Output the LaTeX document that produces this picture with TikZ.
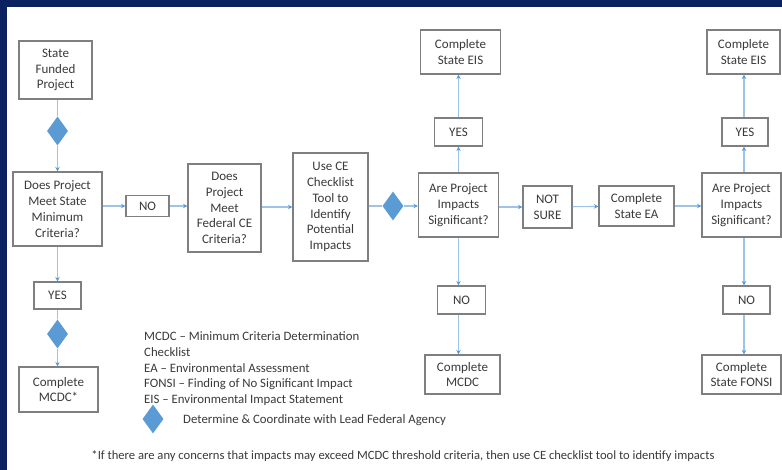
\documentclass[tikz,border=0pt]{standalone}
\usepackage{fontspec}
\setmainfont{Carlito}
\usetikzlibrary{shapes.geometric,arrows.meta}
\definecolor{navy}{HTML}{0B2260}
\definecolor{boxline}{HTML}{7F7F7F}
\definecolor{txt}{HTML}{3A3A3A}
\definecolor{flow}{HTML}{9DC3E6}
\definecolor{tip}{HTML}{5B9BD5}
\definecolor{gem}{HTML}{5B9BD5}
\tikzset{
  x=1pt, y=-1pt,
  stepbox/.style={draw=boxline, line width=1.1pt, fill=white, align=center,
    text=txt, font=\fontsize{13}{15.8}\selectfont, inner sep=1pt},
  gembox/.style={diamond, fill=gem, draw=none, inner sep=0pt,
    minimum width=21pt, minimum height=29pt},
  link/.style={draw=flow, line width=1.1pt},
  arr/.style={link, -{Stealth[length=4.5pt,width=4.5pt,color=tip]}},
  legend/.style={anchor=west, text=txt, inner sep=0pt,
    font=\fontsize{12.8}{14}\selectfont},
}
\begin{document}
\begin{tikzpicture}
\useasboundingbox (0,0) rectangle (782,470);
\fill[white] (0,0) rectangle (782,470);
% frame bands
\fill[navy] (0,0) rectangle (782,7);
\fill[navy] (0,0) rectangle (7,470);

% left column
\node[stepbox, minimum width=73pt, minimum height=58pt] (sfp) at (55.5,70) {State\\Funded\\Project};
\node[gembox] (d1) at (57.5,131) {};
\node[stepbox, minimum width=89pt, minimum height=74pt] (msc) at (57.5,209) {Does Project\\Meet State\\Minimum\\Criteria?};
\node[stepbox, minimum width=47pt, minimum height=27pt] (yes0) at (57.5,295.5) {YES};
\node[gembox] (d3) at (57.5,334) {};
\node[stepbox, minimum width=79pt, minimum height=45pt] (mcdcs) at (58.5,389.5) {Complete\\MCDC*};

% main row
\node[stepbox, minimum width=43pt, minimum height=21pt] (no1) at (147.5,206) {NO};
\node[stepbox, minimum width=73pt, minimum height=88pt] (fce) at (224.5,208) {Does\\Project\\Meet\\Federal CE\\Criteria?};
\node[stepbox, minimum width=75pt, minimum height=108pt] (chk) at (330.5,207) {Use CE\\Checklist\\Tool to\\Identify\\Potential\\Impacts};
\node[gembox] (d2) at (393,206) {};
\node[stepbox, minimum width=80pt, minimum height=64pt] (sig1) at (458.5,205) {Are Project\\Impacts\\Significant?};
\node[stepbox, minimum width=49pt, minimum height=42pt] (ns) at (547.5,207) {NOT\\SURE};
\node[stepbox, minimum width=75pt, minimum height=40pt] (ea) at (636.5,206) {Complete\\State EA};
\node[stepbox, minimum width=79pt, minimum height=64pt] (sig2) at (741.5,205) {Are Project\\Impacts\\Significant?};

% first decision column
\node[stepbox, minimum width=48pt, minimum height=28pt] (yes1) at (458.5,132) {YES};
\node[stepbox, minimum width=80pt, minimum height=44pt] (eis1) at (460.5,52) {Complete\\State EIS};
\node[stepbox, minimum width=48pt, minimum height=28pt] (no2) at (461.5,300) {NO};
\node[stepbox, minimum width=75pt, minimum height=39pt] (mcdc) at (462.5,374.5) {Complete\\MCDC};

% second decision column
\node[stepbox, minimum width=46pt, minimum height=28pt] (yes2) at (745,132) {YES};
\node[stepbox, minimum width=73pt, minimum height=44pt] (eis2) at (743.5,52) {Complete\\State EIS};
\node[stepbox, minimum width=47pt, minimum height=28pt] (no3) at (746.5,300) {NO};
\node[stepbox, minimum width=79pt, minimum height=39pt] (fonsi) at (741.5,374.5) {Complete\\State FONSI};

% connectors
\draw[link] (sfp.south -| d1) -- (d1);
\draw[arr] (d1) -- (msc.north -| d1);
\draw[arr] (msc.south -| yes0) -- (yes0);
\draw[link] (yes0) -- (d3);
\draw[arr] (d3) -- (mcdcs.north -| d3);
\draw[arr] (msc.east |- no1) -- (no1);
\draw[arr] (no1) -- (fce.west |- no1);
\draw[arr] (fce.east |- chk) -- (chk);
\draw[link] (chk.east |- d2) -- (d2);
\draw[arr] (d2) -- (sig1.west |- d2);
\draw[arr] (sig1.north -| yes1) -- (yes1);
\draw[arr] (yes1) -- (eis1.south -| yes1);
\draw[arr] (sig1.south -| yes1) -- (no2.north -| yes1);
\draw[arr] (no2.south -| yes1) -- (mcdc.north -| yes1);
\draw[arr] (sig1.east |- ns) -- (ns);
\draw[arr] (ns) -- (ea);
\draw[arr] (ea.east) -- (sig2.west |- ea);
\coordinate (rc) at (744,0);
\draw[arr] (sig2.north -| rc) -- (yes2.south -| rc);
\draw[arr] (yes2.north -| rc) -- (eis2.south -| rc);
\draw[arr] (sig2.south -| rc) -- (no3.north -| rc);
\draw[arr] (no3.south -| rc) -- (fonsi.north -| rc);

% legend
\node[legend] (l1) at (144,336) {MCDC – Minimum Criteria Determination};
\node[legend] (l2) at (144,352) {Checklist};
\node[legend] (l3) at (144,368) {EA – Environmental Assessment};
\node[legend] (l4) at (144,384) {FONSI – Finding of No Significant Impact};
\node[legend] (l5) at (144,400) {EIS – Environmental Impact Statement};
\node[gembox] (lg) at (153,419) {};
\node[legend] (l6) at (183,420) {Determine \& Coordinate with Lead Federal Agency};

% footnote
\node[text=txt, inner sep=0pt, font=\fontsize{12.6}{14}\selectfont] (fn) at (403,456)
  {*If there are any concerns that impacts may exceed MCDC threshold criteria, then use CE checklist tool to identify impacts};
\end{tikzpicture}
\end{document}
